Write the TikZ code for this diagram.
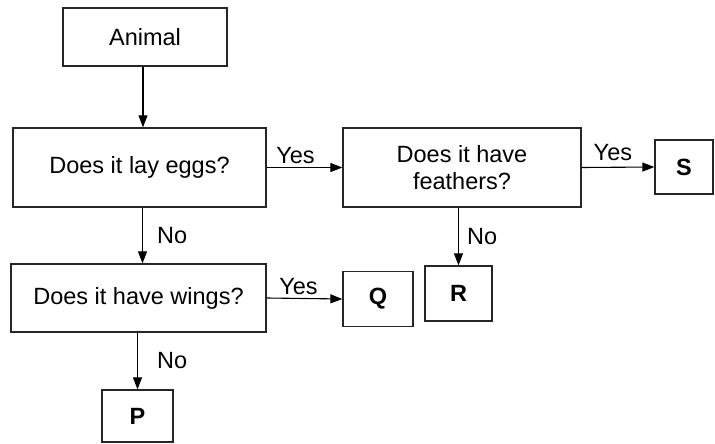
\documentclass[tikz,border=0pt]{standalone}
\usepackage{fontspec}
\setmainfont{Liberation Sans}
\usetikzlibrary{arrows.meta}
\begin{document}
\begin{tikzpicture}[x=1pt,y=-1pt]
\tikzstyle{every node}+=[font=\fontsize{23.5}{27}\selectfont]
\tikzstyle{box}=[draw=black!85,line width=1.3pt,inner sep=0pt,align=center]
\tikzstyle{leaf}=[box,font=\fontsize{23.5}{27}\selectfont\bfseries]
\tikzstyle{arr}=[line width=1.1pt,-{Triangle[length=12pt,width=9pt]}]
\useasboundingbox (0,0) rectangle (715,444);
\node [box,minimum width=164pt,minimum height=58pt] (animal) at (145,37) {Animal};
\node [box,minimum width=253pt,minimum height=79pt] (eggs) at (139.5,167.5) {Does it lay eggs?};
\node [box,minimum width=238pt,minimum height=79pt] (feathers) at (462,167.5) {Does it have\\feathers?};
\node [leaf,minimum width=58pt,minimum height=54pt] (S) at (684,167) {S};
\node [box,minimum width=255pt,minimum height=68pt] (wings) at (138.5,298) {Does it have wings?};
\node [leaf,minimum width=70pt,minimum height=55pt] (Q) at (378,299) {Q};
\node [leaf,minimum width=67pt,minimum height=55pt] (R) at (458.5,293.5) {R};
\node [leaf,minimum width=71pt,minimum height=52pt] (P) at (137.5,416) {P};
\draw [arr] ([xshift=-2pt]animal.south) -- ([xshift=-2pt]animal.south |- eggs.north);
\draw [arr] (eggs.east) -- node [pos=0.38,above,inner sep=3pt] (y1) {Yes} (feathers.west);
\draw [arr] (feathers.east) -- node [pos=0.43,above,inner sep=6pt] (y2) {Yes} (S.west);
\draw [arr] ([xshift=3pt]eggs.south) -- node [right,inner sep=14pt] (n1) {No} ([xshift=3pt]eggs.south |- wings.north);
\draw [arr] (R.north |- feathers.south) -- node [right,inner sep=8pt] (n2) {No} (R.north);
\draw [arr] (wings.east) -- node [pos=0.42,above,inner sep=3pt] (y3) {Yes} (Q.west);
\draw [arr] (P.north |- wings.south) -- node [right,inner sep=19pt] (n3) {No} (P.north);
\end{tikzpicture}
\end{document}
